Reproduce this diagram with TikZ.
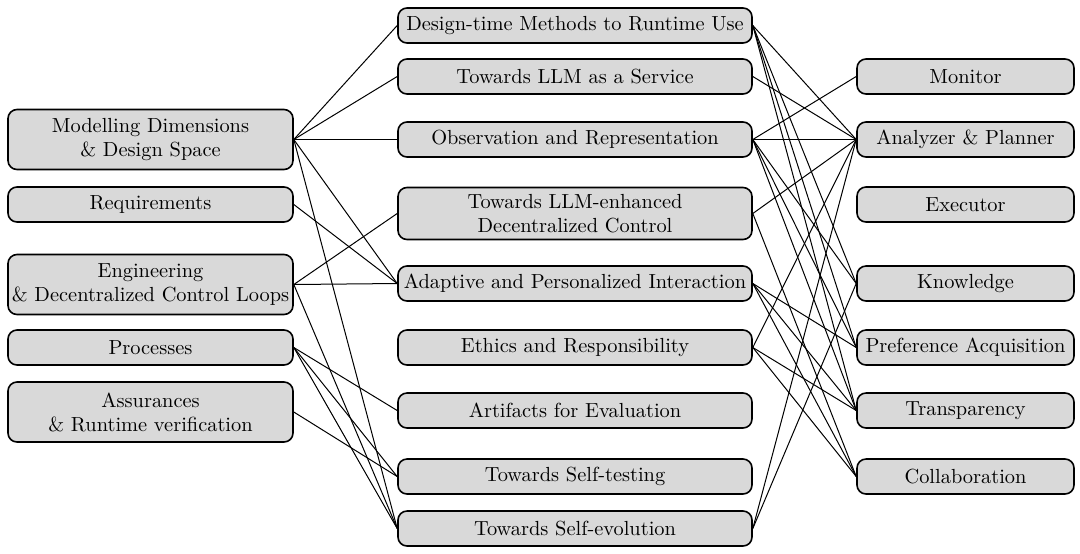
\documentclass[tikz,border=0pt]{standalone}
\definecolor{boxfill}{RGB}{217,217,217}
\tikzset{
  box/.style={draw=black, line width=0.8pt, fill=boxfill, rounded corners=4.5pt,
    inner sep=0pt, align=center, font=\fontsize{10.2}{12}\selectfont},
  lbox/.style={box, minimum width=142.5pt},
  mbox/.style={box, minimum width=177pt},
  rbox/.style={box, minimum width=108.5pt},
  one/.style={minimum height=17.5pt},
  two/.style={minimum height=30pt},
  link/.style={draw=black, line width=0.5pt}
}
\begin{document}
\begin{tikzpicture}[x=0.5pt,y=-0.5pt]
\useasboundingbox (0,0) rectangle (1080,553);
% left column
\node[lbox,two] (L1) at (150.5,139.5) {Modelling Dimensions\\\& Design Space};
\node[lbox,one] (L2) at (150.5,204.5) {Requirements};
\node[lbox,two] (L3) at (150.5,284.5) {Engineering\\\& Decentralized Control Loops};
\node[lbox,one] (L4) at (150.5,347.5) {Processes};
\node[lbox,two] (L5) at (150.5,412) {Assurances\\\& Runtime verification};
% middle column
\node[mbox,one] (M1) at (575,25.5) {Design-time Methods to Runtime Use};
\node[mbox,one] (M2) at (575,76.5) {Towards LLM as a Service};
\node[mbox,one] (M3) at (575,139.5) {Observation and Representation};
\node[mbox,minimum height=26pt] (M4) at (575,213.5) {Towards LLM-enhanced\\Decentralized Control};
\node[mbox,one] (M5) at (575,283.5) {Adaptive and Personalized Interaction};
\node[mbox,one] (M6) at (575,347.5) {Ethics and Responsibility};
\node[mbox,one] (M7) at (575,410.5) {Artifacts for Evaluation};
\node[mbox,one] (M8) at (575,476.5) {Towards Self-testing};
\node[mbox,one] (M9) at (575,528.5) {Towards Self-evolution};
% right column
\node[rbox,one] (R1) at (965.5,76.5) {Monitor};
\node[rbox,one] (R2) at (965.5,139.5) {Analyzer \& Planner};
\node[rbox,one] (R3) at (965.5,204.5) {Executor};
\node[rbox,one] (R4) at (965.5,283.5) {Knowledge};
\node[rbox,one] (R5) at (965.5,347.5) {Preference Acquisition};
\node[rbox,one] (R6) at (965.5,410.5) {Transparency};
\node[rbox,one] (R7) at (965.5,476.5) {Collaboration};
% left -> middle
\foreach \a/\b in {L1/M1,L1/M2,L1/M3,L1/M5,L1/M9,L2/M5,L3/M4,L3/M5,L3/M9,L4/M7,L4/M8,L4/M9,L5/M8}
  \draw[link] (\a.east) -- (\b.west);
% middle -> right
\foreach \a/\b in {M1/R2,M1/R4,M1/R5,M1/R6,M2/R2,M3/R1,M3/R2,M3/R4,M3/R5,M3/R6,M4/R2,M4/R7,M5/R5,M5/R6,M5/R7,M6/R2,M6/R6,M6/R7,M9/R2,M9/R4}
  \draw[link] (\a.east) -- (\b.west);
\end{tikzpicture}
\end{document}
